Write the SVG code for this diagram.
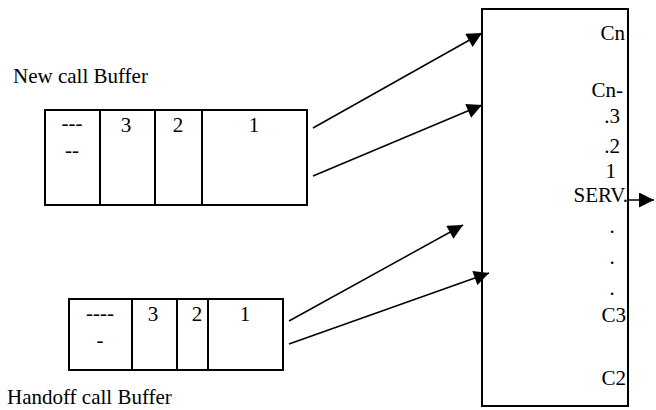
<svg xmlns="http://www.w3.org/2000/svg" width="656" height="410" viewBox="0 0 656 410">
<defs>
<marker id="ah" viewBox="0 0 10 10" refX="10" refY="5" markerWidth="17" markerHeight="15" markerUnits="userSpaceOnUse" orient="auto">
<path d="M0,0 L10,5 L0,10 z" fill="#000"/>
</marker>
<style>
.box{fill:#fff;stroke:#000;stroke-width:2}
.div{stroke:#000;stroke-width:2}
text{font-family:'Liberation Serif','Times New Roman',Times,serif;font-size:21px;fill:#000}
.m{text-anchor:middle}
.e{text-anchor:end}
.c{stroke:#000;stroke-width:1.5;fill:none;marker-end:url(#ah)}
</style>
</defs>
<rect width="656" height="410" fill="#fff"/>
<g id="new-call-buffer">
<text x="13" y="83">New call Buffer</text>
<rect class="box" x="45" y="110" width="262" height="95"/>
<line class="div" x1="100" y1="110" x2="100" y2="205"/>
<line class="div" x1="155" y1="110" x2="155" y2="205"/>
<line class="div" x1="202" y1="110" x2="202" y2="205"/>
<text class="m" x="72" y="130">---</text>
<text class="m" x="72" y="157">--</text>
<text class="m" x="126" y="132">3</text>
<text class="m" x="178" y="132">2</text>
<text class="m" x="254" y="132">1</text>
</g>
<g id="handoff-call-buffer">
<rect class="box" x="69" y="299" width="214" height="71"/>
<line class="div" x1="132" y1="299" x2="132" y2="370"/>
<line class="div" x1="177" y1="299" x2="177" y2="370"/>
<line class="div" x1="208" y1="299" x2="208" y2="370"/>
<text class="m" x="100" y="320">----</text>
<text class="m" x="100" y="347">-</text>
<text class="m" x="153" y="321">3</text>
<text class="m" x="197" y="321">2</text>
<text class="m" x="245" y="321">1</text>
<text x="7" y="404">Handoff call Buffer</text>
</g>
<g id="server">
<rect class="box" x="482" y="9" width="146" height="397"/>
<text class="e" x="625" y="40">Cn</text>
<text class="e" x="623" y="97">Cn-</text>
<text class="e" x="620" y="123">.3</text>
<text class="e" x="620" y="153">.2</text>
<text class="e" x="616" y="178">1</text>
<text class="e" x="628" y="202">SERV.</text>
<text class="m" x="612" y="233">.</text>
<text class="m" x="612" y="264">.</text>
<text class="m" x="612" y="295">.</text>
<text class="e" x="626" y="322">C3</text>
<text class="e" x="626" y="385">C2</text>
</g>
<g id="connectors">
<line class="c" x1="313" y1="128" x2="482" y2="33"/>
<line class="c" x1="313" y1="176" x2="482" y2="105"/>
<line class="c" x1="289" y1="321" x2="463" y2="225"/>
<line class="c" x1="289" y1="344" x2="489" y2="273"/>
<line class="c" x1="628" y1="200" x2="654" y2="200"/>
</g>
</svg>
